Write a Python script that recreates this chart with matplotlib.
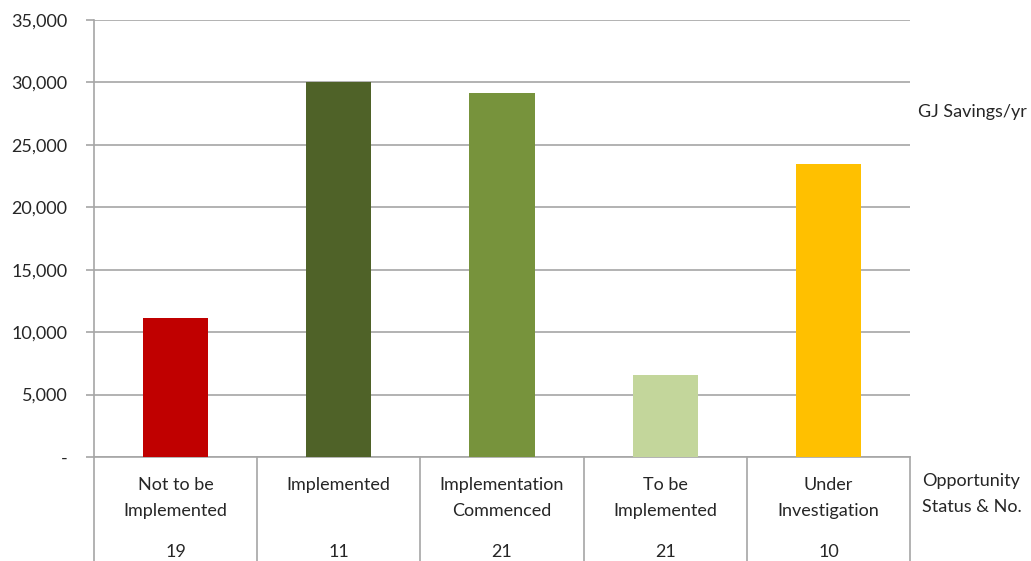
import matplotlib
matplotlib.use("Agg")
import matplotlib.pyplot as plt
import matplotlib.transforms as mtransforms
from matplotlib.ticker import FuncFormatter

categories = ["Not to be\nImplemented", "Implemented", "Implementation\nCommenced",
              "To be\nImplemented", "Under\nInvestigation"]
counts = [19, 11, 21, 21, 10]
savings = [11150, 30050, 29150, 6600, 23450]
colors = ["#C00000", "#4F6228", "#77933C", "#C3D69B", "#FFC000"]
yticks = [0, 5000, 10000, 15000, 20000, 25000, 30000, 35000]

plt.rcParams['font.family'] = ['Lato', 'DejaVu Sans']
txt = "#262626"
grid_c = "#A6A6A6"
fs = 13

fig = plt.figure(figsize=(10.31, 5.61), dpi=100)
ax = fig.add_axes([94/1031, 1-457/561, (910-94)/1031, 437/561])

x = list(range(len(categories)))
ax.bar(x, savings, width=0.4, color=colors, zorder=3)
ax.set_xlim(-0.5, len(categories) - 0.5)
ax.set_ylim(0, 35000)
ax.set_yticks(yticks)
ax.yaxis.set_major_formatter(FuncFormatter(lambda v, p: "-" if v == 0 else f"{int(v):,}"))
ax.grid(axis='y', color=grid_c, linewidth=1.2, zorder=0)
ax.tick_params(axis='y', length=6, width=1.2, color=grid_c, labelsize=fs,
               labelcolor=txt, pad=13)
ax.set_xticks([])
for s in ["top", "right"]:
    ax.spines[s].set_visible(False)
ax.spines["left"].set_color(grid_c)
ax.spines["left"].set_linewidth(1.2)
ax.spines["bottom"].set_color(grid_c)
ax.spines["bottom"].set_linewidth(1.2)

# table-like category area
trans = mtransforms.blended_transform_factory(ax.transData, ax.transAxes)
for b in [i - 0.5 for i in range(len(categories) + 1)]:
    ax.plot([b, b], [0, -0.25], color=grid_c, lw=1.2, transform=trans, clip_on=False)
for i, (c, n) in enumerate(zip(categories, counts)):
    ax.text(i, -20/437, c, transform=trans, ha='center', va='top', fontsize=fs,
            color=txt, linespacing=1.75)
    ax.text(i, -95/437, str(n), transform=trans, ha='center', va='center', fontsize=fs,
            color=txt)

fig.text(918/1031, 1-112/561, "GJ Savings/yr", ha='left', va='center', fontsize=fs, color=txt)
fig.text(922/1031, 1-473/561, "Opportunity\nStatus & No.", ha='left', va='top', fontsize=fs,
         color=txt, linespacing=1.75)

fig.savefig("out.png", dpi=100)
